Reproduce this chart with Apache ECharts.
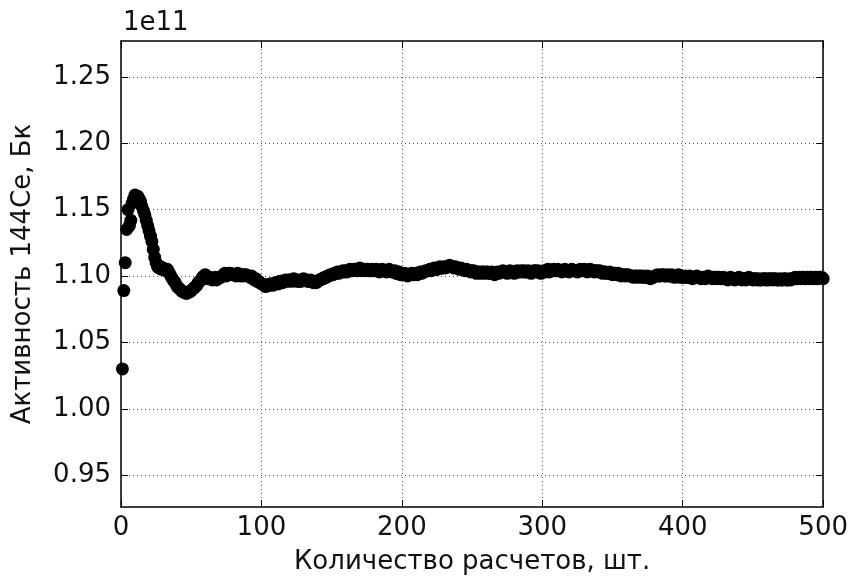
<!DOCTYPE html>
<html>
<head>
<meta charset="utf-8">
<script src="https://cdn.jsdelivr.net/npm/echarts@6/dist/echarts.min.js"></script>
<style>
  html, body { margin: 0; padding: 0; background: #fff; }
  #chart { width: 851px; height: 580px; }
</style>
</head>
<body>
<div id="chart"></div>
<script>
// Running estimate of the 144Ce activity (in units of 1e11 Bq) after each calculation
const activity001 = [
  1.030,1.089,1.110,1.135,1.150,1.138,1.142,1.155,1.158,1.161,
  1.160,1.160,1.158,1.156,1.152,1.149,1.146,1.142,1.138,1.134,
  1.130,1.126,1.120,1.114,1.110,1.107,1.106,1.107,1.105,1.106,
  1.105,1.104,1.105,1.103,1.101,1.099,1.097,1.096,1.094,1.092,
  1.091,1.090,1.089,1.088,1.088,1.087,1.087,1.088,1.088,1.089,
  1.090,1.091,1.092,1.093,1.095,1.096,1.097,1.099,1.100,1.101,
  1.099,1.098,1.099,1.098,1.097,1.098,1.099,1.097,1.098,1.099,
  1.099,1.100,1.101,1.102,1.100,1.101,1.102,1.102,1.101,1.101,
  1.101,1.100,1.102,1.101,1.100,1.101,1.100,1.101,1.101,1.100,
  1.100,1.099,1.100,1.098,1.097,1.098,1.096,1.096,1.095,1.094
];
const activity101 = [
  1.094,1.093,1.092,1.093,1.093,1.094,1.094,1.093,1.094,1.095,
  1.095,1.094,1.096,1.096,1.095,1.096,1.097,1.096,1.097,1.097,
  1.096,1.097,1.098,1.097,1.096,1.097,1.096,1.096,1.097,1.098,
  1.097,1.097,1.096,1.096,1.097,1.096,1.095,1.096,1.095,1.096,
  1.097,1.097,1.098,1.098,1.099,1.099,1.100,1.100,1.101,1.101,
  1.101,1.102,1.102,1.103,1.102,1.103,1.103,1.104,1.103,1.104,
  1.103,1.104,1.105,1.104,1.104,1.105,1.105,1.104,1.105,1.106,
  1.104,1.105,1.105,1.104,1.105,1.105,1.104,1.104,1.105,1.104,
  1.104,1.105,1.104,1.103,1.104,1.105,1.104,1.104,1.103,1.104,
  1.105,1.104,1.103,1.103,1.104,1.102,1.102,1.103,1.101,1.101
];
const activity201 = [
  1.101,1.102,1.101,1.100,1.101,1.101,1.102,1.101,1.101,1.102,
  1.101,1.102,1.103,1.102,1.103,1.103,1.104,1.104,1.104,1.105,
  1.104,1.105,1.106,1.105,1.105,1.106,1.107,1.106,1.106,1.107,
  1.106,1.107,1.107,1.108,1.107,1.107,1.106,1.107,1.106,1.106,
  1.105,1.106,1.105,1.105,1.104,1.105,1.104,1.104,1.103,1.104,
  1.104,1.103,1.102,1.103,1.103,1.102,1.103,1.103,1.102,1.103,
  1.103,1.102,1.102,1.103,1.102,1.101,1.102,1.103,1.102,1.103,
  1.103,1.104,1.103,1.103,1.102,1.103,1.104,1.103,1.103,1.102,
  1.103,1.104,1.103,1.103,1.104,1.103,1.104,1.103,1.103,1.104,
  1.103,1.102,1.103,1.104,1.104,1.103,1.104,1.103,1.102,1.103
];
const activity301 = [
  1.104,1.103,1.104,1.105,1.103,1.104,1.104,1.105,1.104,1.104,
  1.105,1.104,1.104,1.103,1.104,1.105,1.104,1.104,1.103,1.104,
  1.105,1.104,1.104,1.104,1.103,1.104,1.105,1.104,1.104,1.105,
  1.104,1.103,1.104,1.105,1.104,1.104,1.103,1.104,1.104,1.103,
  1.104,1.103,1.102,1.103,1.103,1.102,1.102,1.103,1.102,1.101,
  1.102,1.102,1.101,1.102,1.101,1.100,1.101,1.101,1.100,1.101,
  1.101,1.100,1.100,1.100,1.099,1.100,1.100,1.099,1.100,1.100,
  1.099,1.100,1.099,1.099,1.100,1.099,1.098,1.099,1.099,1.100,
  1.100,1.101,1.100,1.100,1.101,1.101,1.100,1.100,1.101,1.100,
  1.100,1.101,1.100,1.099,1.100,1.100,1.101,1.099,1.100,1.099
];
const activity401 = [
  1.099,1.100,1.099,1.099,1.100,1.099,1.098,1.099,1.099,1.100,
  1.099,1.099,1.098,1.099,1.099,1.098,1.099,1.100,1.099,1.099,
  1.098,1.099,1.099,1.098,1.099,1.099,1.098,1.098,1.099,1.098,
  1.098,1.097,1.098,1.099,1.098,1.098,1.097,1.098,1.098,1.099,
  1.098,1.097,1.098,1.098,1.097,1.098,1.099,1.098,1.098,1.097,
  1.098,1.098,1.097,1.098,1.097,1.097,1.098,1.098,1.097,1.098,
  1.097,1.098,1.098,1.097,1.098,1.098,1.097,1.097,1.098,1.097,
  1.097,1.098,1.098,1.097,1.097,1.098,1.097,1.098,1.098,1.099,
  1.098,1.098,1.099,1.098,1.099,1.099,1.098,1.099,1.099,1.098,
  1.099,1.099,1.098,1.099,1.099,1.098,1.099,1.099,1.099,1.098
];

// Axis tick values
const xTicks = [0, 100, 200, 300, 400, 500];
const yTicks = [0.95, 1.00, 1.05, 1.10, 1.15, 1.20, 1.25];

const activity = [].concat(activity001, activity101, activity201, activity301, activity401);
const points = activity.map((v, i) => [i + 1, v]);

const FONT = 'DejaVu Sans';
const FS = 26;
const chart = echarts.init(document.getElementById('chart'), null, { renderer: 'canvas' });

const gridLine = { show: true, lineStyle: { color: '#555', width: 1, type: [1, 3] } };
const boxLine = { show: true, onZero: false, lineStyle: { color: '#000', width: 1.5 } };
const innerTick = { show: true, inside: true, length: 7, lineStyle: { color: '#000', width: 1 } };

chart.setOption({
  animation: false,
  backgroundColor: '#fff',
  textStyle: { fontFamily: FONT },
  grid: { left: 121, top: 41, right: 26, bottom: 69, containLabel: false },
  xAxis: [
    {
      type: 'value', min: 0, max: 500, interval: 100, position: 'bottom',
      axisLine: boxLine, axisTick: innerTick, splitLine: gridLine,
      axisLabel: { fontFamily: FONT, fontSize: FS, color: '#111', margin: 8,
                   customValues: xTicks },
      name: 'Количество расчетов, шт.', nameLocation: 'middle', nameGap: 42,
      nameTextStyle: { fontFamily: FONT, fontSize: FS, color: '#111' }
    },
    {
      type: 'value', min: 0, max: 500, interval: 100, position: 'top',
      axisLine: boxLine, axisTick: innerTick, splitLine: { show: false },
      axisLabel: { show: false }
    }
  ],
  yAxis: [
    {
      type: 'value', min: 0.926, max: 1.277, position: 'left',
      axisLine: boxLine,
      axisTick: Object.assign({}, innerTick, { customValues: yTicks }),
      splitLine: gridLine,
      axisLabel: { fontFamily: FONT, fontSize: FS, color: '#111', margin: 10,
                   customValues: yTicks, formatter: v => v.toFixed(2) },
      name: 'Активность 144Ce, Бк', nameLocation: 'middle', nameGap: 85,
      nameTextStyle: { fontFamily: FONT, fontSize: FS, color: '#111' }
    },
    {
      type: 'value', min: 0.926, max: 1.277, position: 'right',
      axisLine: boxLine,
      axisTick: Object.assign({}, innerTick, { customValues: yTicks }),
      splitLine: { show: false }, axisLabel: { show: false }
    }
  ],
  graphic: [{
    type: 'text', left: 123, top: 10,
    style: { text: '1e11', fontFamily: FONT, fontSize: FS, fill: '#111' }
  }],
  series: [{
    type: 'scatter',
    xAxisIndex: 0, yAxisIndex: 0,
    data: points,
    symbol: 'circle',
    symbolSize: 13,
    clip: true,
    itemStyle: { color: '#000', opacity: 1 },
    emphasis: { disabled: true }
  }]
});
</script>
</body>
</html>
